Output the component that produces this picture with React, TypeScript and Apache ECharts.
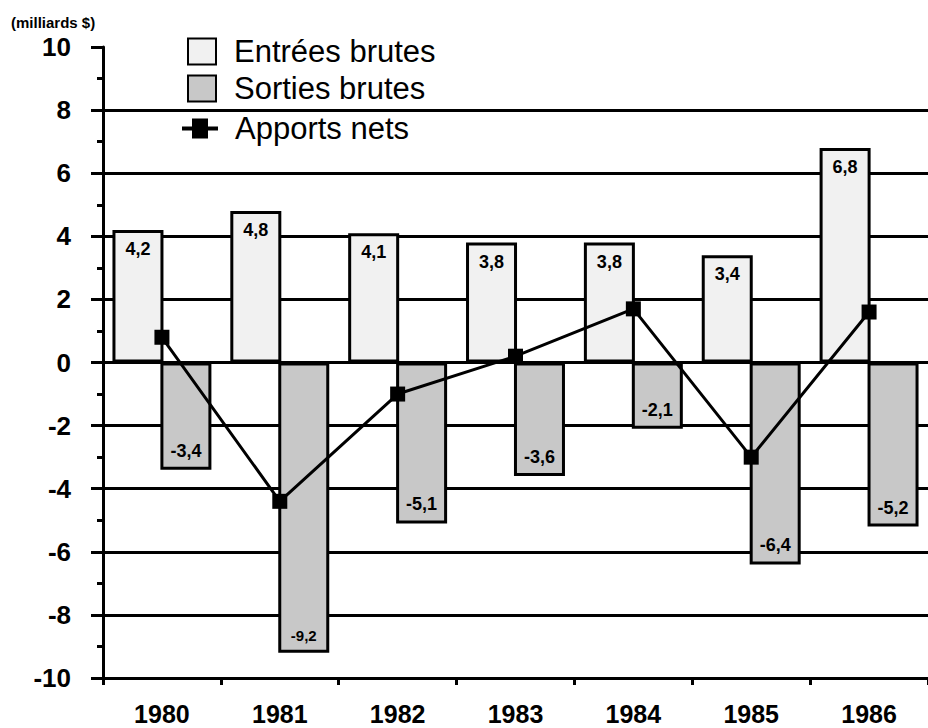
import React, { useEffect, useRef } from "react";
import * as echarts from "echarts";

const years = ["1980", "1981", "1982", "1983", "1984", "1985", "1986"];
const entrees = [4.2, 4.8, 4.1, 3.8, 3.8, 3.4, 6.8];
const sorties = [-3.4, -9.2, -5.1, -3.6, -2.1, -6.4, -5.2];
const apports = [0.8, -4.4, -1.0, 0.2, 1.7, -3.0, 1.6];

const FONT = "'Liberation Sans', Arial, Helvetica, sans-serif";
const fmt = (v: number) => v.toFixed(1).replace(".", ",");

const gridColors = [
  "#000", "#000", "#000", "#000", "#000", "#000",
  "#000", "#000", "#000", "#000", "rgba(0,0,0,0)",
];

export default function App() {
  const ref = useRef<HTMLDivElement>(null);
  useEffect(() => {
    if (!ref.current) return;
    const chart = echarts.init(ref.current, undefined, { renderer: "svg" });
    const legendText = {
      fontFamily: FONT,
      fontSize: 31,
      color: "#000",
    };
    chart.setOption({
      animation: false,
      backgroundColor: "#ffffff",
      title: {
        text: "(milliards $)",
        left: 6,
        top: 10,
        textStyle: { fontFamily: FONT, fontSize: 15, fontWeight: "bold", color: "#000" },
      },
      legend: [
        {
          orient: "vertical",
          left: 182,
          top: 31,
          itemWidth: 28,
          itemHeight: 26,
          itemGap: 6,
          textStyle: { ...legendText, padding: [0, 0, 0, 13] },
          data: [
            { name: "Entrées brutes", icon: "rect" },
            { name: "Sorties brutes", icon: "rect" },
          ],
        },
        {
          orient: "vertical",
          left: 177,
          top: 108,
          itemWidth: 36,
          itemHeight: 26,
          textStyle: { ...legendText, padding: [0, 0, 0, 12] },
          data: [
            {
              name: "Apports nets",
              icon: "path://M0,10H10V2H26V10H36V14H26V22H10V14H0Z",
            },
          ],
        },
      ],
      grid: { left: 103, right: -8, top: 47, bottom: 50, containLabel: false },
      xAxis: {
        type: "category",
        data: years,
        axisLine: { onZero: false, lineStyle: { color: "#000", width: 3 } },
        axisTick: { show: true, length: 7, lineStyle: { color: "#000", width: 3 } },
        axisLabel: {
          fontFamily: FONT,
          fontSize: 25,
          fontWeight: "bold",
          color: "#000",
          margin: 23,
        },
        splitLine: { show: false },
      },
      yAxis: {
        type: "value",
        min: -10,
        max: 10,
        interval: 2,
        axisLine: { show: true, lineStyle: { color: "#000", width: 3 } },
        axisTick: { show: true, length: 12, lineStyle: { color: "#000", width: 3 } },
        minorTick: { show: true, splitNumber: 2, length: 6, lineStyle: { color: "#000", width: 3 } },
        axisLabel: {
          fontFamily: FONT,
          fontSize: 26,
          fontWeight: "bold",
          color: "#000",
          margin: 32,
        },
        splitLine: {
          show: true,
          lineStyle: { color: gridColors, width: 3 },
        },
      },
      series: [
        {
          name: "Entrées brutes",
          type: "bar",
          data: entrees,
          barWidth: 51,
          barGap: "-6%",
          itemStyle: { color: "#f1f1f1", borderColor: "#000", borderWidth: 3 },
          label: {
            show: true,
            position: "insideTop",
            distance: 10,
            formatter: (p: any) => fmt(p.value),
            fontFamily: FONT,
            fontSize: 18,
            fontWeight: "bold",
            color: "#000",
          },
          z: 2,
        },
        {
          name: "Sorties brutes",
          type: "bar",
          data: sorties.map((v, i) =>
            i === 1 ? { value: v, label: { fontSize: 15 } } : v
          ),
          barWidth: 51,
          itemStyle: { color: "#c8c8c8", borderColor: "#000", borderWidth: 3 },
          label: {
            show: true,
            position: "insideBottom",
            distance: 10,
            formatter: (p: any) => fmt(p.value),
            fontFamily: FONT,
            fontSize: 18,
            fontWeight: "bold",
            color: "#000",
          },
          z: 2,
        },
        {
          name: "Apports nets",
          type: "line",
          data: apports,
          symbol: "rect",
          symbolSize: 15,
          lineStyle: { color: "#000", width: 3 },
          itemStyle: { color: "#000" },
          z: 5,
        },
      ],
    });
    return () => chart.dispose();
  }, []);
  return <div ref={ref} style={{ width: 928, height: 728, position: "absolute", left: 0, top: 0 }} />;
}
